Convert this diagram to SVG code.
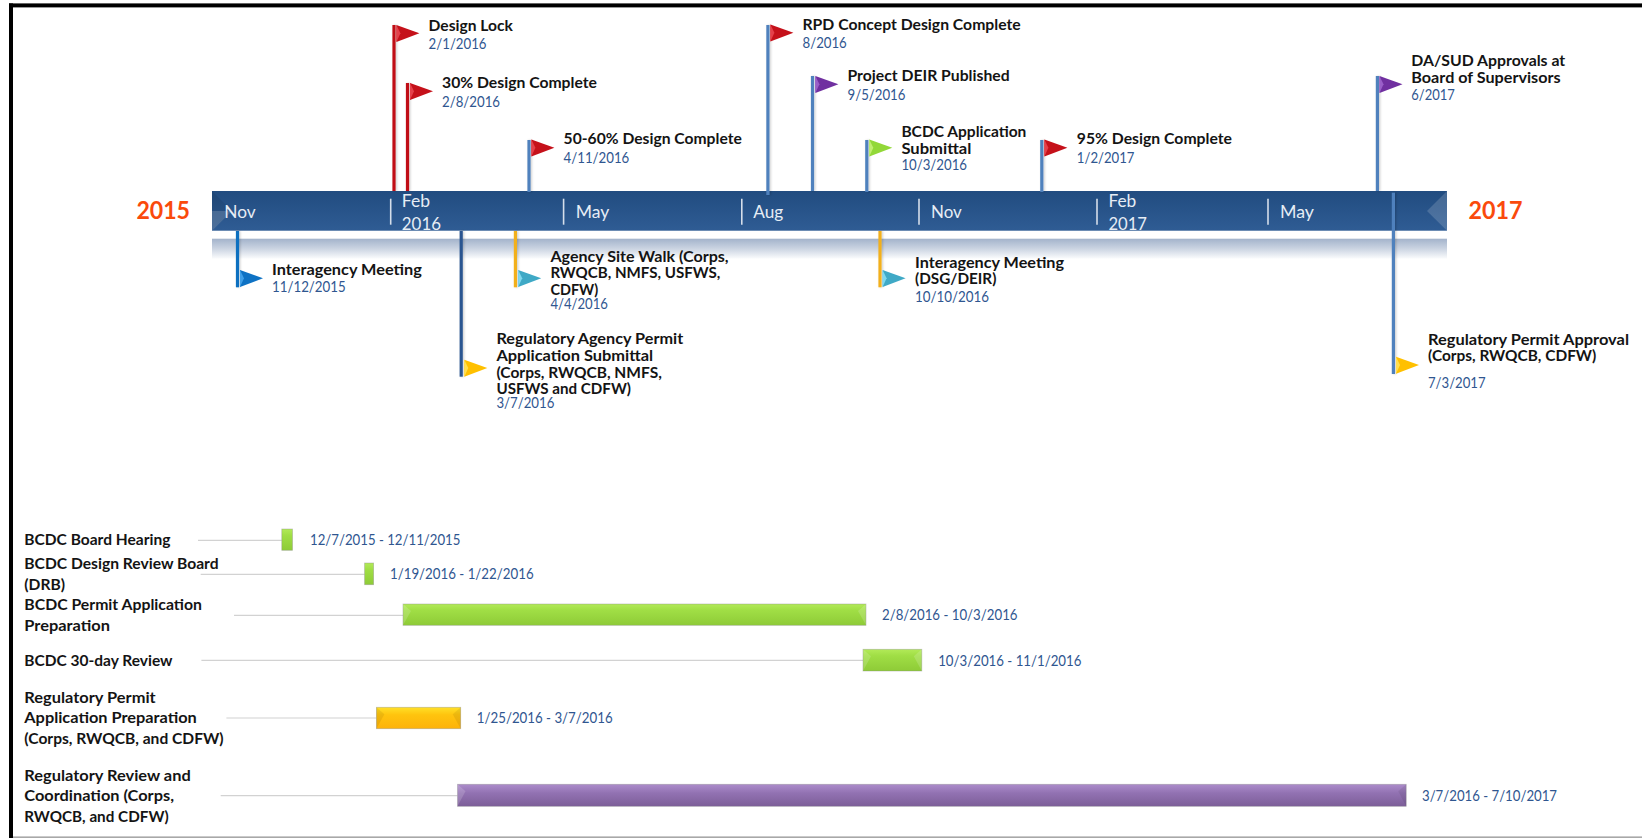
<svg xmlns="http://www.w3.org/2000/svg" xmlns:xlink="http://www.w3.org/1999/xlink" width="1642" height="838" viewBox="0 0 1642 838">
<style>
text{font-family:Lato,"Liberation Sans",Arial,sans-serif;font-size:14.4px}
.b{font-weight:700;fill:#141414}
.d{fill:#2f5690}
.m{font-size:17.5px;fill:#e6edf5}
.y{font-size:24px;font-weight:700;fill:#fa4a0c}
.sep{stroke:#d5deea;stroke-width:1.6}
.pole{stroke-width:3.2;fill:none;filter:url(#ps)}
.lead{stroke:#d2d2d2;stroke-width:1.2;fill:none}
.pb{stroke:#4f81bd}.pr{stroke:#c00d12}.pn{stroke:#2c5590}.py{stroke:#f2b01e}.pc{stroke:#1070c0}
.hi{fill:#fff;opacity:.16}.lo{fill:#000;opacity:.07}
.bar{stroke:#888;stroke-opacity:.45;stroke-width:.8}
</style>
<defs>
<filter id="ps" filterUnits="userSpaceOnUse" x="0" y="0" width="1642" height="838"><feDropShadow dx="1.2" dy="0" stdDeviation="1" flood-color="#000" flood-opacity=".2"/></filter>
<linearGradient id="gBar" x1="0" y1="0" x2="0" y2="1"><stop offset="0" stop-color="#214c80"/><stop offset="1" stop-color="#2f5c94"/></linearGradient>
<linearGradient id="gRef" x1="0" y1="0" x2="0" y2="1"><stop offset="0" stop-color="#a3b3cb"/><stop offset=".5" stop-color="#cbd4e2"/><stop offset="1" stop-color="#fbfcfd"/></linearGradient>
<linearGradient id="gGreen" x1="0" y1="0" x2="0" y2="1"><stop offset="0" stop-color="#b2ea58"/><stop offset=".3" stop-color="#a0de45"/><stop offset="1" stop-color="#8ecb37"/></linearGradient>
<linearGradient id="gOrange" x1="0" y1="0" x2="0" y2="1"><stop offset="0" stop-color="#ffe028"/><stop offset=".35" stop-color="#ffc40e"/><stop offset="1" stop-color="#fdb20a"/></linearGradient>
<linearGradient id="gPurple" x1="0" y1="0" x2="0" y2="1"><stop offset="0" stop-color="#ac8ccb"/><stop offset=".4" stop-color="#9272b2"/><stop offset="1" stop-color="#7c5e98"/></linearGradient>
<g id="fRed"><polygon points="0,0 23,8.3 0,17" fill="#c5111a"/><polygon points="0,0 4,8.3 0,17" fill="#e5404a"/></g>
<g id="fPurple"><polygon points="0,0 23,8.3 0,17" fill="#7030a0"/><polygon points="0,0 4,8.3 0,17" fill="#9a5fc8"/></g>
<g id="fGreen"><polygon points="0,0 23,8.3 0,17" fill="#92d838"/><polygon points="0,0 4,8.3 0,17" fill="#c0ee70"/></g>
<g id="fBlue"><polygon points="0,0 23,8.3 0,17" fill="#0e72c4"/><polygon points="0,0 4,8.3 0,17" fill="#3f9fe8"/></g>
<g id="fTeal"><polygon points="0,0 23,8.3 0,17" fill="#3fa9c6"/><polygon points="0,0 4,8.3 0,17" fill="#7fd8ee"/></g>
<g id="fYellow"><polygon points="0,0 23,8.3 0,17" fill="#ffc000"/><polygon points="0,0 4,8.3 0,17" fill="#ffdf50"/></g>
</defs>
<rect width="1642" height="838" fill="#fff"/>
<g id="frame">
<rect x="9" y="3.4" width="1633" height="4" fill="#000"/>
<rect x="9" y="3.4" width="4" height="834.6" fill="#000"/>
<rect x="13" y="836.4" width="1629" height="1.6" fill="#a8a8a8"/>
</g>
<g id="timeline">
<rect x="212" y="238.7" width="1235" height="20" fill="url(#gRef)"/>
<rect x="212" y="191" width="1235" height="39.7" fill="url(#gBar)"/>
<polygon points="212,230.7 232,211 212,191" class="lo"/>
<polygon points="212,230.7 232,211 212,211" class="hi"/>
<polygon points="1447,191 1427,211 1447,230.7" class="hi"/>
<line x1="390.7" y1="198.7" x2="390.7" y2="224.7" class="sep"/>
<line x1="563.6" y1="198.7" x2="563.6" y2="224.7" class="sep"/>
<line x1="741.8" y1="198.7" x2="741.8" y2="224.7" class="sep"/>
<line x1="919" y1="198.7" x2="919" y2="224.7" class="sep"/>
<line x1="1097" y1="198.7" x2="1097" y2="224.7" class="sep"/>
<line x1="1268" y1="198.7" x2="1268" y2="224.7" class="sep"/>
<text class="m" x="224.3" y="218.3" textLength="31.4" lengthAdjust="spacingAndGlyphs">Nov</text>
<text class="m" x="401.8" y="207" textLength="28.2" lengthAdjust="spacingAndGlyphs">Feb</text>
<text class="m" x="401.8" y="230" textLength="39.2" lengthAdjust="spacingAndGlyphs">2016</text>
<text class="m" x="575.7" y="218.3" textLength="33.6" lengthAdjust="spacingAndGlyphs">May</text>
<text class="m" x="753.2" y="218.3" textLength="30" lengthAdjust="spacingAndGlyphs">Aug</text>
<text class="m" x="931" y="218.3" textLength="30.8" lengthAdjust="spacingAndGlyphs">Nov</text>
<text class="m" x="1108.4" y="207" textLength="27.9" lengthAdjust="spacingAndGlyphs">Feb</text>
<text class="m" x="1108.4" y="230" textLength="38.6" lengthAdjust="spacingAndGlyphs">2017</text>
<text class="m" x="1280" y="218.3" textLength="34" lengthAdjust="spacingAndGlyphs">May</text>
<text class="y" x="136.4" y="219.3" textLength="53.6" lengthAdjust="spacingAndGlyphs">2015</text>
<text class="y" x="1468.4" y="219.3" textLength="54" lengthAdjust="spacingAndGlyphs">2017</text>
</g>
<g id="connectors">
<line x1="394" y1="25" x2="394" y2="191" class="pole pr"/>
<line x1="407.5" y1="83" x2="407.5" y2="191" class="pole pr"/>
<line x1="529" y1="140" x2="529" y2="192" class="pole pb"/>
<line x1="767.9" y1="25" x2="767.9" y2="195" class="pole pb"/>
<line x1="812.5" y1="76" x2="812.5" y2="191" class="pole pb"/>
<line x1="866.8" y1="140" x2="866.8" y2="192" class="pole pb"/>
<line x1="1041.8" y1="140" x2="1041.8" y2="192" class="pole pb"/>
<line x1="1377.4" y1="76" x2="1377.4" y2="191" class="pole pb"/>
<line x1="237.5" y1="231" x2="237.5" y2="287.3" class="pole pc"/>
<line x1="461.2" y1="231" x2="461.2" y2="376.7" class="pole pn"/>
<line x1="515.4" y1="231" x2="515.4" y2="287.3" class="pole py"/>
<line x1="880" y1="231" x2="880" y2="287.3" class="pole py"/>
<line x1="1393.4" y1="192.7" x2="1393.4" y2="374" class="pole pb"/>
<line x1="198" y1="540.3" x2="281.8" y2="540.3" class="lead"/>
<line x1="200.7" y1="574.3" x2="364.6" y2="574.3" class="lead"/>
<line x1="234" y1="615.3" x2="403" y2="615.3" class="lead"/>
<line x1="201.4" y1="660.3" x2="863" y2="660.3" class="lead"/>
<line x1="226.4" y1="718" x2="376.4" y2="718" class="lead"/>
<line x1="220.7" y1="795.7" x2="457.5" y2="795.7" class="lead"/>
</g>
<g id="design-lock"><use href="#fRed" x="396.4" y="25"/><text class="b" x="428.6" y="30.7" textLength="84.3" lengthAdjust="spacingAndGlyphs">Design Lock</text><text class="d" x="428.6" y="49" textLength="57.9" lengthAdjust="spacingAndGlyphs">2/1/2016</text></g>
<g id="design-30"><use href="#fRed" x="410" y="83"/><text class="b" x="442" y="87.7" textLength="155" lengthAdjust="spacingAndGlyphs">30% Design Complete</text><text class="d" x="442" y="106.7" textLength="58" lengthAdjust="spacingAndGlyphs">2/8/2016</text></g>
<g id="design-50"><use href="#fRed" x="531.4" y="139.5"/><text class="b" x="563.6" y="144" textLength="178.2" lengthAdjust="spacingAndGlyphs">50-60% Design Complete</text><text class="d" x="563.6" y="163" textLength="65.7" lengthAdjust="spacingAndGlyphs">4/11/2016</text></g>
<g id="rpd"><use href="#fRed" x="770.4" y="24.5"/><text class="b" x="802.5" y="29.7" textLength="218.2" lengthAdjust="spacingAndGlyphs">RPD Concept Design Complete</text><text class="d" x="802.5" y="48.3" textLength="44.3" lengthAdjust="spacingAndGlyphs">8/2016</text></g>
<g id="deir"><use href="#fPurple" x="815.4" y="76"/><text class="b" x="847.5" y="81" textLength="162.1" lengthAdjust="spacingAndGlyphs">Project DEIR Published</text><text class="d" x="847.5" y="100" textLength="57.9" lengthAdjust="spacingAndGlyphs">9/5/2016</text></g>
<g id="bcdc-app"><use href="#fGreen" x="869.3" y="139.5"/><text class="b" x="901.4" y="137.3" textLength="125" lengthAdjust="spacingAndGlyphs">BCDC Application</text><text class="b" x="901.4" y="154" textLength="70" lengthAdjust="spacingAndGlyphs">Submittal</text><text class="d" x="901.4" y="170.3" textLength="65.6" lengthAdjust="spacingAndGlyphs">10/3/2016</text></g>
<g id="design-95"><use href="#fRed" x="1044.4" y="139.5"/><text class="b" x="1076.8" y="144" textLength="155.2" lengthAdjust="spacingAndGlyphs">95% Design Complete</text><text class="d" x="1076.8" y="163" textLength="57.7" lengthAdjust="spacingAndGlyphs">1/2/2017</text></g>
<g id="da-sud"><use href="#fPurple" x="1379.5" y="76"/><text class="b" x="1411.3" y="66.3" textLength="153.9" lengthAdjust="spacingAndGlyphs">DA/SUD Approvals at</text><text class="b" x="1411.3" y="83" textLength="149.3" lengthAdjust="spacingAndGlyphs">Board of Supervisors</text><text class="d" x="1411.3" y="100" textLength="43.6" lengthAdjust="spacingAndGlyphs">6/2017</text></g>
<g id="interagency-1"><use href="#fBlue" x="240" y="270"/><text class="b" x="272" y="275.3" textLength="149.8" lengthAdjust="spacingAndGlyphs">Interagency Meeting</text><text class="d" x="272" y="292.3" textLength="73.7" lengthAdjust="spacingAndGlyphs">11/12/2015</text></g>
<g id="reg-agency"><use href="#fYellow" x="464.3" y="359.7"/><text class="b" x="496.4" y="344.3" textLength="186.8" lengthAdjust="spacingAndGlyphs">Regulatory Agency Permit</text><text class="b" x="496.4" y="361" textLength="156.8" lengthAdjust="spacingAndGlyphs">Application Submittal</text><text class="b" x="496.4" y="377.7" textLength="165.4" lengthAdjust="spacingAndGlyphs">(Corps, RWQCB, NMFS,</text><text class="b" x="496.4" y="394.3" textLength="134.6" lengthAdjust="spacingAndGlyphs">USFWS and CDFW)</text><text class="d" x="496.4" y="407.7" textLength="57.9" lengthAdjust="spacingAndGlyphs">3/7/2016</text></g>
<g id="site-walk"><use href="#fTeal" x="518.2" y="270"/><text class="b" x="550.4" y="261.7" textLength="178.2" lengthAdjust="spacingAndGlyphs">Agency Site Walk (Corps,</text><text class="b" x="550.4" y="278.3" textLength="170" lengthAdjust="spacingAndGlyphs">RWQCB, NMFS, USFWS,</text><text class="b" x="550.4" y="295" textLength="47.8" lengthAdjust="spacingAndGlyphs">CDFW)</text><text class="d" x="550.4" y="309.3" textLength="57.5" lengthAdjust="spacingAndGlyphs">4/4/2016</text></g>
<g id="interagency-2"><use href="#fTeal" x="882.6" y="270"/><text class="b" x="915" y="268" textLength="149" lengthAdjust="spacingAndGlyphs">Interagency Meeting</text><text class="b" x="915" y="284.3" textLength="81.4" lengthAdjust="spacingAndGlyphs">(DSG/DEIR)</text><text class="d" x="915" y="301.7" textLength="74" lengthAdjust="spacingAndGlyphs">10/10/2016</text></g>
<g id="permit-approval"><use href="#fYellow" x="1396" y="356.7"/><text class="b" x="1428" y="344.7" textLength="201" lengthAdjust="spacingAndGlyphs">Regulatory Permit Approval</text><text class="b" x="1428" y="361.3" textLength="168.3" lengthAdjust="spacingAndGlyphs">(Corps, RWQCB, CDFW)</text><text class="d" x="1428" y="387.7" textLength="57.6" lengthAdjust="spacingAndGlyphs">7/3/2017</text></g>
<g id="row-hearing"><text class="b" x="24.3" y="545.3" textLength="146.1" lengthAdjust="spacingAndGlyphs">BCDC Board Hearing</text><rect x="281.8" y="529" width="10.7" height="21.3" fill="url(#gGreen)" class="bar"/><text class="d" x="310" y="545" textLength="150.4" lengthAdjust="spacingAndGlyphs">12/7/2015 - 12/11/2015</text></g>
<g id="row-drb"><text class="b" x="24.3" y="569.3" textLength="194.3" lengthAdjust="spacingAndGlyphs">BCDC Design Review Board</text><text class="b" x="24.3" y="590" textLength="40.7" lengthAdjust="spacingAndGlyphs">(DRB)</text><rect x="364.6" y="563" width="9" height="21.7" fill="url(#gGreen)" class="bar"/><text class="d" x="390" y="579" textLength="143.6" lengthAdjust="spacingAndGlyphs">1/19/2016 - 1/22/2016</text></g>
<g id="row-permit-prep"><text class="b" x="24.3" y="610.3" textLength="177.7" lengthAdjust="spacingAndGlyphs">BCDC Permit Application</text><text class="b" x="24.3" y="630.7" textLength="85.7" lengthAdjust="spacingAndGlyphs">Preparation</text><rect x="403" y="604" width="463" height="21.3" fill="url(#gGreen)" class="bar"/><polygon points="403,604 411,611 403,625.3" class="hi"/><polygon points="866,604 858,611 866,625.3" class="hi"/><text class="d" x="882" y="620" textLength="135.5" lengthAdjust="spacingAndGlyphs">2/8/2016 - 10/3/2016</text></g>
<g id="row-review"><text class="b" x="24.3" y="665.7" textLength="148.2" lengthAdjust="spacingAndGlyphs">BCDC 30-day Review</text><rect x="863" y="649.3" width="58.8" height="21.7" fill="url(#gGreen)" class="bar"/><polygon points="863,649.3 871,656.3 863,671" class="hi"/><polygon points="921.8,649.3 913.8,656.3 921.8,671" class="hi"/><text class="d" x="938.2" y="666" textLength="143.2" lengthAdjust="spacingAndGlyphs">10/3/2016 - 11/1/2016</text></g>
<g id="row-reg-prep"><text class="b" x="24.3" y="703" textLength="131.4" lengthAdjust="spacingAndGlyphs">Regulatory Permit</text><text class="b" x="24.3" y="723.3" textLength="172.5" lengthAdjust="spacingAndGlyphs">Application Preparation</text><text class="b" x="24.3" y="744.3" textLength="199.3" lengthAdjust="spacingAndGlyphs">(Corps, RWQCB, and CDFW)</text><rect x="376.4" y="707.3" width="84.3" height="21.4" fill="url(#gOrange)" class="bar"/><polygon points="376.4,707.3 384.4,714.3 376.4,728.7" class="lo"/><polygon points="460.7,707.3 452.7,714.3 460.7,728.7" class="lo"/><text class="d" x="476.8" y="723.3" textLength="135.8" lengthAdjust="spacingAndGlyphs">1/25/2016 - 3/7/2016</text></g>
<g id="row-reg-review"><text class="b" x="24.3" y="780.7" textLength="166.4" lengthAdjust="spacingAndGlyphs">Regulatory Review and</text><text class="b" x="24.3" y="801" textLength="149.7" lengthAdjust="spacingAndGlyphs">Coordination (Corps,</text><text class="b" x="24.3" y="822" textLength="144.3" lengthAdjust="spacingAndGlyphs">RWQCB, and CDFW)</text><rect x="457.5" y="784.3" width="948.7" height="22" fill="url(#gPurple)" class="bar"/><polygon points="457.5,784.3 465.5,791.3 457.5,806.3" class="hi"/><polygon points="1406.2,784.3 1398.2,791.3 1406.2,806.3" class="lo"/><text class="d" x="1422" y="801" textLength="135" lengthAdjust="spacingAndGlyphs">3/7/2016 - 7/10/2017</text></g>
</svg>
